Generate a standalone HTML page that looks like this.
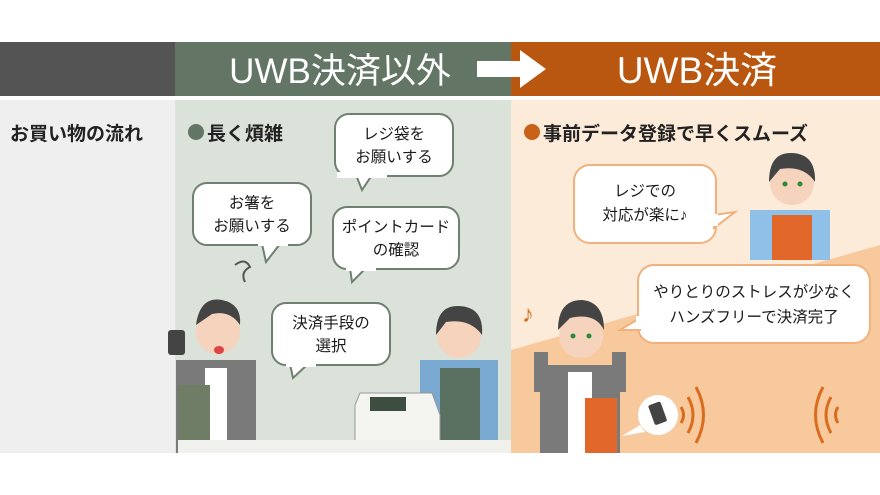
<!DOCTYPE html>
<html><head><meta charset="utf-8"><style>
body{margin:0;width:880px;height:495px;overflow:hidden;background:#fff}
svg{display:block}
text{font-family:"Liberation Sans","Noto Sans CJK JP",sans-serif}
</style></head><body>
<svg width="880" height="495" viewBox="0 0 880 495">
<rect x="0" y="42" width="175" height="54" fill="#545454"/>
<rect x="175" y="42" width="336" height="54" fill="#637564"/>
<rect x="511" y="42" width="369" height="54" fill="#b9560f"/>
<text x="340" y="83" font-size="35" fill="#fff" text-anchor="middle">UWB決済以外</text>
<polygon points="477,61 520,61 520,50 546,69 520,88 520,77 477,77" fill="#fff"/>
<text x="697" y="83" font-size="37" fill="#fff" text-anchor="middle">UWB決済</text>
<rect x="0" y="100" width="175" height="353" fill="#efefef"/>
<rect x="175" y="100" width="336" height="353" fill="#dbe2da"/>
<rect x="511" y="100" width="369" height="353" fill="#fcebd9"/>
<polygon points="511,350 880,245 880,453 511,453" fill="#f8c99c"/>
<text x="10" y="140" font-size="19" fill="#222" font-weight="bold">お買い物の流れ</text>
<circle cx="196" cy="132" r="8" fill="#637564"/>
<text x="207" y="140" font-size="19" fill="#222" font-weight="bold">長く煩雑</text>
<circle cx="532" cy="132" r="8" fill="#c9611b"/>
<text x="543" y="140" font-size="19" fill="#222" font-weight="bold">事前データ登録で早くスムーズ</text>
<g fill="#fff" stroke="#6f8070" stroke-width="2">
<rect x="335" y="114" width="118" height="62" rx="14"/>
<polygon points="356,175 362,190 372,175" />
<rect x="193" y="183" width="118" height="62" rx="14"/>
<polygon points="262,244 266,262 280,244"/>
<rect x="333" y="207" width="126" height="62" rx="14"/>
<polygon points="350,268 352,282 366,268"/>
<rect x="272" y="303" width="118" height="62" rx="14"/>
<polygon points="290,364 293,378 308,364"/>
</g>
<g fill="#fff"><rect x="337" y="172" width="50" height="6"/><rect x="258" y="240" width="30" height="6"/><rect x="346" y="265" width="30" height="6"/><rect x="286" y="361" width="30" height="6"/></g>
<g font-size="15.5" fill="#1a1a1a" text-anchor="middle">
<text x="394" y="139">レジ袋を</text><text x="394" y="162">お願いする</text>
<text x="252" y="208">お箸を</text><text x="252" y="231">お願いする</text>
<text x="396" y="232">ポイントカード</text><text x="396" y="255">の確認</text>
<text x="331" y="328">決済手段の</text><text x="331" y="351">選択</text>
</g>
<g fill="#fff" stroke="#f1b07c" stroke-width="2">
<rect x="574" y="165" width="142" height="78" rx="16"/>
<polygon points="714,215 735,212 714,228"/>
<rect x="638" y="265" width="232" height="78" rx="16"/>
<polygon points="640,318 620,330 640,330"/>
</g>
<rect x="710" y="214" width="8" height="12" fill="#fff"/>
<rect x="636" y="316" width="8" height="13" fill="#fff"/>
<g font-size="15.5" fill="#1a1a1a" text-anchor="middle">
<text x="645" y="196">レジでの</text><text x="645" y="220">対応が楽に♪</text>
<text x="754" y="297">やりとりのストレスが少なく</text><text x="754" y="322">ハンズフリーで決済完了</text>
</g>
<text x="522" y="322" font-size="24" fill="#d76d1e">♪</text>
<rect x="176" y="360" width="80" height="93" fill="#7a7a7a"/>
<rect x="205" y="368" width="22" height="85" fill="#fff"/>
<rect x="178" y="385" width="32" height="60" fill="#6f7d66"/>
<circle cx="218" cy="332" r="22" fill="#f6d3bd"/>
<path d="M196,325 Q200,296 222,300 Q242,304 240,325 Q230,310 212,314 Z" fill="#444"/>
<rect x="168" y="330" width="17" height="25" rx="3" fill="#444"/>
<ellipse cx="219" cy="350" rx="5" ry="4" fill="#d44"/>
<path d="M235,265 q10,-8 15,2 q-10,5 -5,15" stroke="#555" stroke-width="2" fill="none"/>
<rect x="420" y="360" width="78" height="80" fill="#79a8d0"/>
<rect x="440" y="368" width="40" height="72" fill="#5a7060"/>
<circle cx="459" cy="336" r="22" fill="#f6d3bd"/>
<path d="M436,335 Q436,305 459,306 Q484,307 482,335 Q470,318 446,322 Z" fill="#444"/>
<polygon points="355,405 360,393 432,393 440,415 440,448 355,448" fill="#f4f4f1" stroke="#999" stroke-width="1"/>
<rect x="370" y="397" width="36" height="14" fill="#3d4d3f"/>
<rect x="178" y="440" width="333" height="13" fill="#f0f0ec"/>
<rect x="540" y="365" width="80" height="88" fill="#7a7a7a"/>
<rect x="568" y="372" width="24" height="81" fill="#fff"/>
<rect x="585" y="398" width="32" height="55" fill="#e2672a"/>
<rect x="534" y="352" width="14" height="40" fill="#7a7a7a"/>
<rect x="612" y="352" width="14" height="40" fill="#7a7a7a"/>
<circle cx="581" cy="336" r="22" fill="#f6d3bd"/>
<path d="M558,330 Q558,300 582,300 Q604,302 604,330 Q595,312 570,318 Z" fill="#444"/>
<circle cx="573" cy="336" r="2.5" fill="#2a8a3a"/><circle cx="589" cy="336" r="2.5" fill="#2a8a3a"/>
<circle cx="658" cy="415" r="20" fill="#fff"/>
<polygon points="640,425 622,436 645,432" fill="#fff"/>
<rect x="651" y="403" width="13" height="21" rx="2" fill="#444" transform="rotate(-20 657 413)"/>
<g stroke="#d76d1e" stroke-width="3" fill="none">
<path d="M681,407 q5,8 0,16"/><path d="M688,397 q10,18 0,36"/><path d="M696,387 q15,28 0,56"/>
<path d="M838,407 q-5,8 0,16"/><path d="M831,397 q-10,18 0,36"/><path d="M823,387 q-15,28 0,56"/>
</g>
<rect x="750" y="210" width="80" height="50" fill="#8ec0e8"/>
<rect x="772" y="215" width="40" height="45" fill="#e2672a"/>
<circle cx="792" cy="183" r="22" fill="#f6d3bd"/>
<path d="M769,182 Q769,152 792,153 Q816,154 815,182 Q804,165 780,169 Z" fill="#444"/>
<circle cx="785" cy="184" r="2.5" fill="#2a8a3a"/><circle cx="800" cy="184" r="2.5" fill="#2a8a3a"/>
</svg>
</body></html>
